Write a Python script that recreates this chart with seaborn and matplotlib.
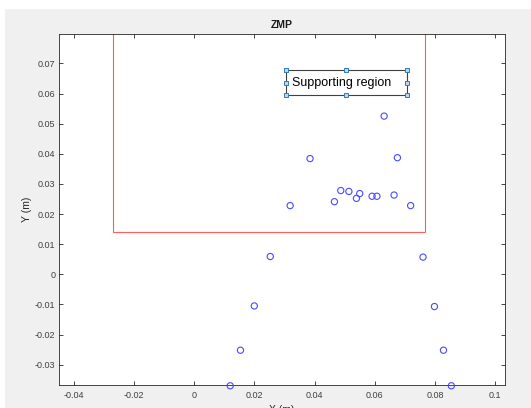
import matplotlib
matplotlib.use("Agg")
import matplotlib.pyplot as plt
from matplotlib.patches import Rectangle
import seaborn as sns
import pandas as pd

# ---- data ----
zmp_x = [0.0120, 0.0154, 0.0200, 0.0253, 0.0319, 0.0385, 0.0466, 0.0487, 0.0514,
         0.0539, 0.0550, 0.0591, 0.0607, 0.0631, 0.0664, 0.0675, 0.0719, 0.0760,
         0.0798, 0.0828, 0.0854]
zmp_y = [-0.0370, -0.0252, -0.0105, 0.0059, 0.0228, 0.0384, 0.0241, 0.0278, 0.0275,
         0.0252, 0.0268, 0.0259, 0.0259, 0.0525, 0.0263, 0.0387, 0.0228, 0.0057,
         -0.0107, -0.0252, -0.0370]
support_x = [-0.0268, 0.0768]   # supporting region x range
support_y = [0.0141, 0.0800]    # supporting region y range
label_box_x = [0.0305, 0.0707]
label_box_y = [0.0594, 0.0678]
label_text = "Supporting region"
x_ticks = [-0.04, -0.02, 0, 0.02, 0.04, 0.06, 0.08, 0.1]
x_tick_labels = ["-0.04", "-0.02", "0", "0.02", "0.04", "0.06", "0.08", "0.1"]
y_ticks = [-0.03, -0.02, -0.01, 0, 0.01, 0.02, 0.03, 0.04, 0.05, 0.06, 0.07]
y_tick_labels = ["-0.03", "-0.02", "-0.01", "0", "0.01", "0.02", "0.03", "0.04",
                 "0.05", "0.06", "0.07"]

df = pd.DataFrame({"x": zmp_x, "y": zmp_y})

sns.set_style("white")
plt.rcParams['font.family'] = ['Liberation Sans', 'DejaVu Sans']

fig = plt.figure(figsize=(5.31, 4.08), dpi=100, facecolor="white")
fig.patches.append(Rectangle((5 / 531, 0), 1, 1 - 9 / 408, transform=fig.transFigure,
                             facecolor="#f0f0f0", edgecolor="none", zorder=-10))
ax = fig.add_axes([59.3 / 531, 1 - 385 / 408, (505 - 59.3) / 531, (385 - 34) / 408])
ax.set_facecolor("white")

# supporting region rectangle
ax.add_patch(Rectangle((support_x[0], support_y[0]), support_x[1] - support_x[0],
                       support_y[1] - support_y[0], facecolor="none",
                       edgecolor="#ff5c5c", linewidth=0.8, zorder=2))

sns.scatterplot(data=df, x="x", y="y", marker="o", s=20, facecolor="none",
                edgecolor="#4a4aff", linewidth=0.8, ax=ax, zorder=3, clip_on=False)

# text annotation box with selection handles
ax.add_patch(Rectangle((label_box_x[0], label_box_y[0]), label_box_x[1] - label_box_x[0],
                       label_box_y[1] - label_box_y[0], facecolor="white",
                       edgecolor="#404040", linewidth=0.8, zorder=4))
ax.text(label_box_x[0] + 0.0019, (label_box_y[0] + label_box_y[1]) / 2, label_text,
        fontsize=9, color="black", va="center", ha="left", zorder=5)
xm = (label_box_x[0] + label_box_x[1]) / 2
ym = (label_box_y[0] + label_box_y[1]) / 2
hx = [label_box_x[0], xm, label_box_x[1], label_box_x[0], label_box_x[1],
      label_box_x[0], xm, label_box_x[1]]
hy = [label_box_y[1], label_box_y[1], label_box_y[1], ym, ym,
      label_box_y[0], label_box_y[0], label_box_y[0]]
ax.plot(hx, hy, linestyle="none", marker="s", markersize=3.2,
        markerfacecolor="#bcd6ee", markeredgecolor="#2f7bbf", markeredgewidth=0.7, zorder=6)

ax.set_xlim(-0.04473, 0.10322)
ax.set_ylim(-0.03674, 0.07975)
ax.set_xticks(x_ticks)
ax.set_xticklabels(x_tick_labels)
ax.set_yticks(y_ticks)
ax.set_yticklabels(y_tick_labels)
ax.tick_params(direction="in", length=3, width=0.6, color="#262626",
               labelsize=6.5, labelcolor="#404040", top=True, right=True,
               bottom=True, left=True)
ax.tick_params(axis="x", pad=4)
ax.tick_params(axis="y", pad=3)
for sp in ax.spines.values():
    sp.set_visible(True)
    sp.set_color("#262626")
    sp.set_linewidth(0.6)

ax.set_title("ZMP", fontsize=7.5, fontweight="bold", color="#1a1a1a", pad=4)
ax.set_xlabel("X (m)", fontsize=7.5, color="#262626", labelpad=4)
ax.set_ylabel("Y (m)", fontsize=7.5, color="#262626", labelpad=2)

fig.savefig("out.png", dpi=100, facecolor=fig.get_facecolor())
